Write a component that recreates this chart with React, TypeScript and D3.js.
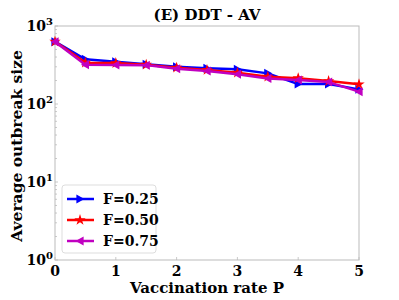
import * as d3 from 'd3';
import React, { useEffect, useRef } from 'react';

const rates = [0, 0.5, 1, 1.5, 2, 2.5, 3, 3.5, 4, 4.5, 5];
const f025 = [630, 374, 349, 323, 301, 287, 279, 247, 180, 180, 154];
const f050 = [630, 339, 335, 319, 292, 273, 252, 224, 214, 197, 179];
const f075 = [630, 319, 317, 315, 283, 265, 240, 213, 203, 191, 144];
const xTicks = [0, 1, 2, 3, 4, 5];
const yExponents = [0, 1, 2, 3];

const seriesList = [
	{ label: 'F=0.25', values: f025, color: '#0000ff', marker: 'right' },
	{ label: 'F=0.50', values: f050, color: '#ff0000', marker: 'star' },
	{ label: 'F=0.75', values: f075, color: '#c000c0', marker: 'left' },
];

const font = '"DejaVu Serif", serif';

const markerPath = (kind: string, size: number): string => {
	if (kind === 'star') {
		return d3.symbol(d3.symbolStar, size * size * 0.5)() ?? '';
	}
	const s = size / 2;
	if (kind === 'right') return `M${-s * 0.8},${-s}L${s},0L${-s * 0.8},${s}Z`;
	return `M${s * 0.8},${-s}L${-s},0L${s * 0.8},${s}Z`;
};

export default function App(): React.JSX.Element {
	const ref = useRef<SVGSVGElement | null>(null);

	useEffect(() => {
		if (ref.current === null) return;
		const svg = d3.select(ref.current);
		svg.selectAll('*').remove();

		const margin = { top: 26, right: 40, bottom: 40, left: 55 };
		const width = 399;
		const height = 300;

		const x = d3.scaleLinear().domain([0, 5]).range([margin.left, width - margin.right]);
		const y = d3.scaleLog().domain([1, 1000]).range([height - margin.bottom, margin.top]);

		svg.append('rect')
			.attr('x', margin.left).attr('y', margin.top)
			.attr('width', x(5) - x(0)).attr('height', y(1) - y(1000))
			.attr('fill', 'white').attr('stroke', '#bbbbbb').attr('stroke-width', 1);

		// minor log ticks, inward
		const minor: number[] = [];
		for (let e = 0; e < 3; e++) {
			for (let m = 2; m <= 9; m++) minor.push(m * Math.pow(10, e));
		}
		svg.append('g').selectAll('line').data(minor).enter().append('line')
			.attr('x1', margin.left).attr('x2', margin.left + 2)
			.attr('y1', (d) => y(d)).attr('y2', (d) => y(d))
			.attr('stroke', '#bbbbbb').attr('stroke-width', 0.8);

		svg.append('g').selectAll('line').data(xTicks).enter().append('line')
			.attr('x1', (d) => x(d)).attr('x2', (d) => x(d))
			.attr('y1', y(1)).attr('y2', y(1) - 3)
			.attr('stroke', '#bbbbbb').attr('stroke-width', 0.8);

		svg.append('g').selectAll('line').data(yExponents).enter().append('line')
			.attr('x1', margin.left).attr('x2', margin.left + 3)
			.attr('y1', (d) => y(Math.pow(10, d))).attr('y2', (d) => y(Math.pow(10, d)))
			.attr('stroke', '#bbbbbb').attr('stroke-width', 0.8);

		// x tick labels
		svg.append('g').selectAll('text').data(xTicks).enter().append('text')
			.attr('x', (d) => x(d)).attr('y', y(1) + 16)
			.attr('text-anchor', 'middle')
			.attr('font-family', font).attr('font-weight', 'bold').attr('font-size', 14)
			.text((d) => d);

		// y tick labels: "10" plus superscript exponent
		svg.append('g').selectAll('text').data(yExponents).enter().append('text')
			.attr('x', margin.left - 9).attr('y', (d) => y(Math.pow(10, d)) + 5)
			.attr('text-anchor', 'end')
			.attr('font-family', font).attr('font-weight', 'bold').attr('font-size', 14)
			.text('10');
		svg.append('g').selectAll('text').data(yExponents).enter().append('text')
			.attr('x', margin.left - 9).attr('y', (d) => y(Math.pow(10, d)) - 1)
			.attr('font-family', font).attr('font-weight', 'bold').attr('font-size', 10)
			.text((d) => d);

		const line = d3.line<number>()
			.x((_, i) => x(rates[i]))
			.y((d) => y(d));

		seriesList.forEach((s) => {
			svg.append('path')
				.datum(s.values)
				.attr('d', line)
				.attr('fill', 'none')
				.attr('stroke', s.color)
				.attr('stroke-width', 2.5)
				.attr('stroke-linejoin', 'round');
			svg.append('g').selectAll('path').data(s.values).enter().append('path')
				.attr('d', markerPath(s.marker, 9))
				.attr('transform', (d, i) => `translate(${x(rates[i])},${y(d)})`)
				.attr('fill', s.color);
		});

		// legend
		const legend = svg.append('g').attr('transform', 'translate(62,185)');
		legend.append('rect')
			.attr('width', 94).attr('height', 68).attr('rx', 3)
			.attr('fill', 'white').attr('fill-opacity', 0.85)
			.attr('stroke', '#dddddd');
		seriesList.forEach((s, i) => {
			const ly = 14 + i * 21;
			legend.append('line')
				.attr('x1', 5).attr('x2', 32).attr('y1', ly).attr('y2', ly)
				.attr('stroke', s.color).attr('stroke-width', 2.5);
			legend.append('path')
				.attr('d', markerPath(s.marker, 9))
				.attr('transform', `translate(18,${ly})`)
				.attr('fill', s.color);
			legend.append('text')
				.attr('x', 41).attr('y', ly + 5)
				.attr('font-family', font).attr('font-weight', 'bold').attr('font-size', 14)
				.text(s.label);
		});

		svg.append('text')
			.attr('x', (x(0) + x(5)) / 2).attr('y', 20)
			.attr('text-anchor', 'middle')
			.attr('font-family', font).attr('font-weight', 'bold').attr('font-size', 15)
			.text('(E) DDT - AV');

		svg.append('text')
			.attr('x', (x(0) + x(5)) / 2).attr('y', 293)
			.attr('text-anchor', 'middle')
			.attr('font-family', font).attr('font-weight', 'bold').attr('font-size', 15)
			.text('Vaccination rate P');

		svg.append('text')
			.attr('transform', `translate(22,${(y(1) + y(1000)) / 2 + 3}) rotate(-90)`)
			.attr('text-anchor', 'middle')
			.attr('font-family', font).attr('font-weight', 'bold').attr('font-size', 15.5)
			.text('Average outbreak size');
	}, []);

	return (
		<svg ref={ref} width={399} height={300} style={{ position: 'absolute', left: 0, top: 0 }} />
	);
}
